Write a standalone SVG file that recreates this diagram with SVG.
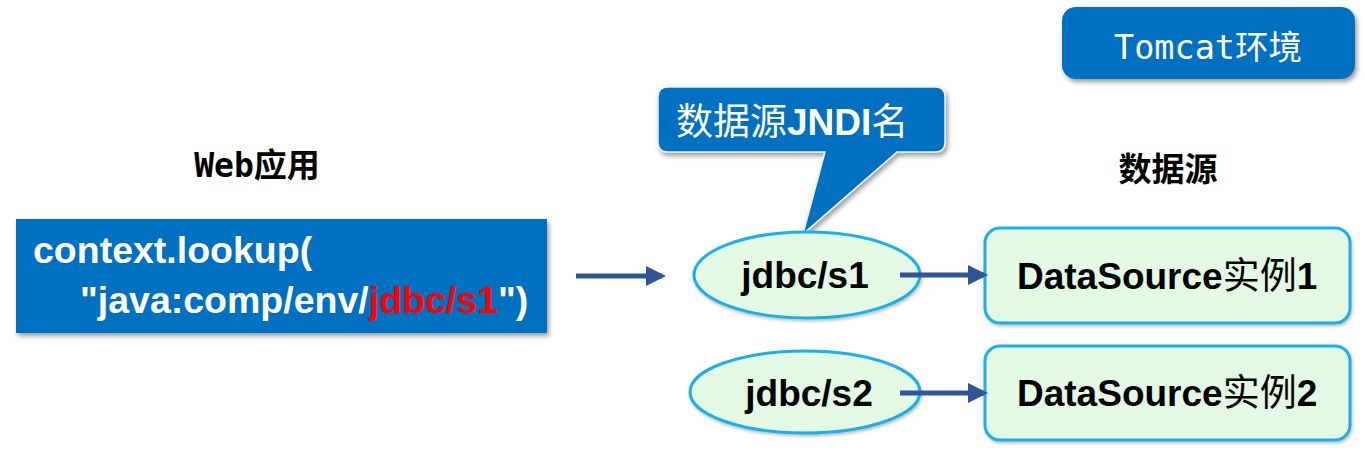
<svg xmlns="http://www.w3.org/2000/svg" width="1365" height="453" viewBox="0 0 1365 453">
<defs>
<filter id="sh" x="-10%" y="-10%" width="125%" height="140%">
<feDropShadow dx="2" dy="3" stdDeviation="2.5" flood-color="#000" flood-opacity="0.4"/>
</filter>
<filter id="shl" x="-10%" y="-10%" width="125%" height="140%">
<feDropShadow dx="1" dy="2" stdDeviation="1.5" flood-color="#000" flood-opacity="0.25"/>
</filter>
<marker id="ah" markerWidth="4" markerHeight="4" refX="3.2" refY="2" orient="auto" markerUnits="strokeWidth">
<path d="M0,0 L4,2 L0,4 Z" fill="#2f5597"/>
</marker>
</defs>
<style>
.blue{fill:#0070c0}
.code{font-family:"Liberation Sans",Arial,sans-serif;font-weight:bold;font-size:37.5px;fill:#fff}
.lbl{font-family:"Liberation Sans","Noto Sans CJK SC",sans-serif;font-weight:bold;font-size:37px;fill:#000}
.hd{font-family:"DejaVu Sans Mono","Noto Sans CJK SC",monospace;font-weight:bold;font-size:33px;fill:#000}
.node{fill:#e3f9e3;stroke:#1cb0e6;stroke-width:3}
.conn{stroke:#2f5597;stroke-width:5;fill:none;marker-end:url(#ah)}
.cjk{font-family:"Noto Sans CJK SC",sans-serif;font-weight:normal}
</style>

<g id="tomcat">
<rect x="1062" y="7" width="293" height="72" rx="14" class="blue" filter="url(#sh)"/>
<text x="1208" y="59" text-anchor="middle" font-family="DejaVu Sans Mono,'Noto Sans CJK SC',monospace" font-size="33.5" fill="#fff">Tomcat环境</text>
</g>

<g id="web-label">
<text x="257" y="177" text-anchor="middle" class="hd">Web应用</text>
</g>

<g id="ds-label">
<text x="1168" y="181" text-anchor="middle" class="hd" font-size="37">数据源</text>
</g>

<g id="code-box">
<rect x="16" y="219" width="531" height="114" class="blue" filter="url(#sh)"/>
<text x="33" y="263" class="code">context.lookup(</text>
<text x="80" y="313" class="code">"java:comp/env/<tspan fill="#ff0000">jdbc/s1</tspan>")</text>
</g>

<g id="callout">
<path d="M668,87 H935 Q945,87 945,97 V142 Q945,152 935,152 H897 L803,234 L825,152 H668 Q658,152 658,142 V97 Q658,87 668,87 Z" class="blue" stroke="#e8f0f8" stroke-width="1.5" filter="url(#sh)"/>
<text x="676" y="135" font-family="'Noto Sans CJK SC',sans-serif" font-size="37" fill="#fff">数据源<tspan font-family="'Liberation Sans',Arial,sans-serif" font-weight="bold">JNDI</tspan>名</text>
</g>

<g id="jndi-s1">
<ellipse cx="807" cy="275" rx="113" ry="43" class="node" filter="url(#shl)"/>
<text x="805" y="288" text-anchor="middle" class="lbl">jdbc/s1</text>
</g>

<g id="jndi-s2">
<ellipse cx="805" cy="392" rx="115" ry="41" class="node" filter="url(#shl)"/>
<text x="809" y="406" text-anchor="middle" class="lbl">jdbc/s2</text>
</g>

<g id="ds1">
<rect x="985" y="228" width="365" height="95" rx="15" class="node" filter="url(#shl)"/>
<text x="1017" y="289" class="lbl">DataSource<tspan class="cjk">实例</tspan>1</text>
</g>

<g id="ds2">
<rect x="985" y="346" width="365" height="94" rx="15" class="node" filter="url(#shl)"/>
<text x="1017" y="406" class="lbl">DataSource<tspan class="cjk">实例</tspan>2</text>
</g>

<g id="connectors">
<line x1="576" y1="276" x2="662" y2="276" class="conn"/>
<line x1="900" y1="275" x2="984" y2="275" class="conn"/>
<line x1="900" y1="393" x2="984" y2="393" class="conn"/>
</g>
</svg>
